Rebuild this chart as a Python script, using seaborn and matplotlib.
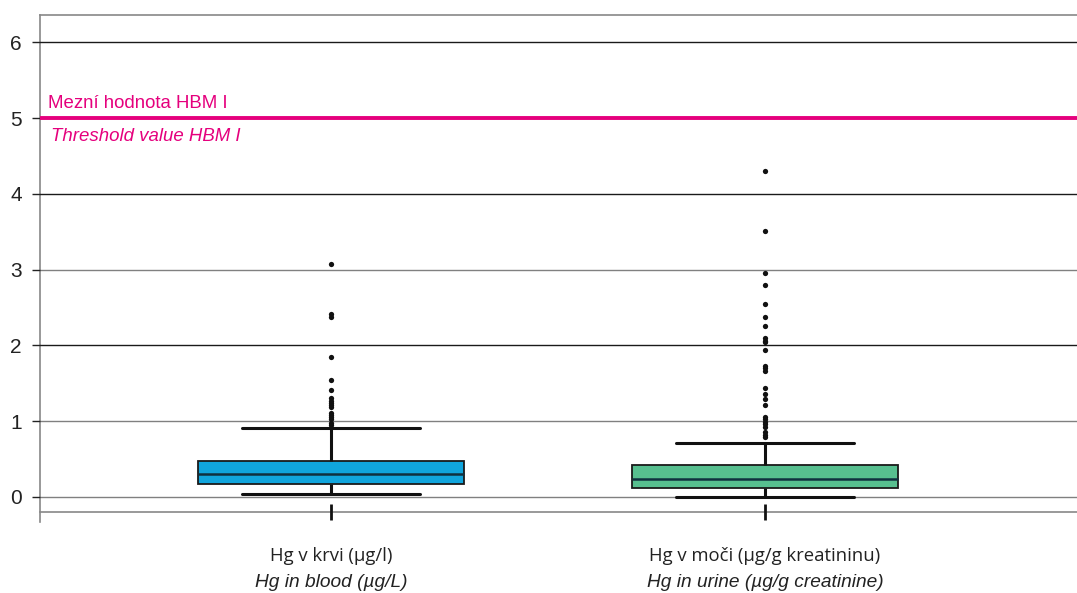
import numpy as np
import pandas as pd
import matplotlib
matplotlib.use("Agg")
import matplotlib.pyplot as plt
import matplotlib.transforms as mtransforms
import seaborn as sns

# ---- data ----
categories = ["Hg v krvi (µg/l)", "Hg v moči (µg/g kreatininu)"]
categories_en = ["Hg in blood (µg/L)", "Hg in urine (µg/g creatinine)"]
# box summary: lower whisker, Q1, median, Q3, upper whisker
blood_box = [0.04, 0.17, 0.30, 0.475, 0.91]
urine_box = [0.00, 0.12, 0.24, 0.42, 0.71]
blood_outliers = [3.08, 2.42, 2.37, 1.85, 1.54, 1.41, 1.31, 1.27, 1.24, 1.21, 1.18,
                  1.11, 1.08, 1.05, 1.02, 0.98, 0.95]
urine_outliers = [4.30, 3.51, 2.96, 2.80, 2.54, 2.37, 2.25, 2.09, 2.06, 2.04, 1.94,
                  1.73, 1.70, 1.66, 1.44, 1.36, 1.29, 1.21, 1.05, 1.02, 0.99, 0.96,
                  0.92, 0.85, 0.82, 0.79]
threshold = 5.0
threshold_cz = "Mezní hodnota HBM I"
threshold_en = "Threshold value HBM I"
y_ticks = [0, 1, 2, 3, 4, 5, 6]
box_colors = ["#10A5DD", "#57BF8F"]

box_df = pd.DataFrame({
    "cat": [categories[0]] * len(blood_box) + [categories[1]] * len(urine_box),
    "val": blood_box + urine_box,
})
out_df = pd.DataFrame({
    "cat": [categories[0]] * len(blood_outliers) + [categories[1]] * len(urine_outliers),
    "val": blood_outliers + urine_outliers,
})

sns.set_style("white")
plt.rcParams["font.family"] = ["Liberation Sans", "DejaVu Sans"]

fig = plt.figure(figsize=(10.77, 5.93), dpi=100)
W, H = 1077, 593
ax = fig.add_axes([40 / W, (H - 512) / H, (W - 40) / W, 497 / H])

sns.boxplot(data=box_df, x="cat", y="val", hue="cat", palette=box_colors,
            order=categories, hue_order=categories, legend=False, saturation=1,
            width=0.613, whis=np.inf, showfliers=False, linecolor="#1a1a1a",
            linewidth=1.3, capwidths=0.41,
            whiskerprops={"linewidth": 2.2, "color": "#111111"},
            capprops={"linewidth": 2.2, "color": "#111111"},
            medianprops={"linewidth": 1.8, "color": "#10303f"},
            ax=ax)

sns.stripplot(data=out_df, x="cat", y="val", order=categories, jitter=False,
              color="#111111", size=3.8, ax=ax, zorder=5)

ax.set_xlim(-0.6705, 1.719)
ax.set_ylim(-0.202, 6.363)
ax.set_yticks(y_ticks)
ax.set_yticklabels([str(t) for t in y_ticks], fontsize=15, color="#222222")
ax.set_xlabel("")
ax.set_ylabel("")

# grid lines
grid_colors = ["#808080", "#808080", "#1a1a1a", "#808080", "#1a1a1a", "#808080", "#1a1a1a"]
for t, c in zip(y_ticks, grid_colors):
    ax.axhline(t, color=c, linewidth=1.0, zorder=0.5)

ax.axhline(threshold, color="#E5007D", linewidth=2.8, zorder=3)
bt = mtransforms.blended_transform_factory(ax.transAxes, ax.transData)
ax.text(0.0077, 5.19, threshold_cz, transform=bt,
        color="#E5007D", fontsize=13.4, va="center", ha="left")
ax.text(0.0105, 4.76, threshold_en, transform=bt,
        color="#E5007D", fontsize=13.4, va="center", ha="left", style="italic")

ax.tick_params(axis="y", direction="out", length=6, width=1, color="#222222", pad=7, left=True)
ax.tick_params(axis="x", direction="inout", length=11, width=2, color="#111111", pad=20, bottom=True)
ax.set_xticks([0, 1])
ax.set_xticklabels(categories, fontsize=13.3, family=["Open Sans", "DejaVu Sans"], color="#222222")

trans = mtransforms.blended_transform_factory(ax.transData, ax.transAxes)
for i, lab in enumerate(categories_en):
    ax.text(i, -0.141, lab, transform=trans, ha="center", va="center",
            fontsize=13.8, style="italic", color="#222222")

ax.spines["right"].set_visible(False)
for s in ["top", "left", "bottom"]:
    ax.spines[s].set_visible(True)
    ax.spines[s].set_color("#888888")
    ax.spines[s].set_linewidth(1.2)
    ax.spines[s].set_zorder(0.4)
ax.spines["left"].set_bounds(-0.33, 6.363)

fig.savefig("out.png", dpi=100)
